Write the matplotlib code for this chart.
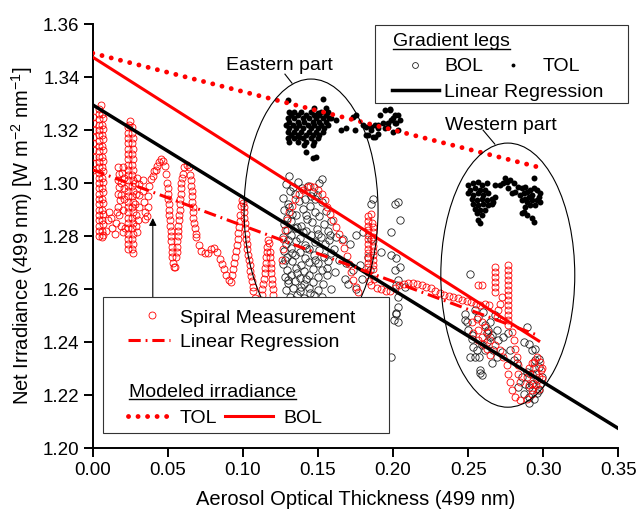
import matplotlib
matplotlib.use("Agg")
import matplotlib.pyplot as plt
from matplotlib.patches import Ellipse, Rectangle

plt.rcParams['font.family'] = ['Liberation Sans', 'DejaVu Sans']
plt.rcParams['mathtext.fontset'] = 'custom'
plt.rcParams['mathtext.rm'] = 'Liberation Sans'
plt.rcParams['mathtext.default'] = 'regular'

# ---- data ------------------------------------------------------------------
x_ticks = [0.00, 0.05, 0.10, 0.15, 0.20, 0.25, 0.30, 0.35]
y_ticks = [1.20, 1.22, 1.24, 1.26, 1.28, 1.30, 1.32, 1.34, 1.36]

# modeled irradiance and regression lines (end points)
tol_model_x = [0.0, 0.297]
tol_model_y = [1.349, 1.306]
bol_model_x = [0.0, 0.297]
bol_model_y = [1.3475, 1.2405]
spiral_fit_x = [0.0, 0.297]
spiral_fit_y = [1.305, 1.2425]
legs_fit_x = [0.0, 0.35]
legs_fit_y = [1.3295, 1.2075]

# spiral measurement (red open circles)
spiral_left = [
    (0.0, 1.325), (0.0, 1.3225), (0.0, 1.320), (0.0, 1.3175), (0.0, 1.315), (0.0, 1.3125),
    (0.0, 1.310), (0.0, 1.3075), (0.0, 1.305),
    (0.004, 1.280), (0.004, 1.284), (0.004, 1.288), (0.004, 1.292), (0.004, 1.296), (0.004, 1.300),
    (0.004, 1.304), (0.004, 1.308), (0.004, 1.312), (0.004, 1.316), (0.004, 1.320), (0.004, 1.324),
    (0.0045, 1.328), (0.0055, 1.3295),
    (0.0042, 1.282), (0.0042, 1.286), (0.0042, 1.290), (0.0042, 1.294), (0.0042, 1.298), (0.0042, 1.302),
    (0.0042, 1.306), (0.0042, 1.310), (0.0042, 1.314), (0.0042, 1.318), (0.0042, 1.322), (0.0042, 1.326),
    (0.0065, 1.326), (0.0065, 1.322), (0.0065, 1.318), (0.0065, 1.314), (0.0065, 1.310), (0.0065, 1.306),
    (0.0065, 1.302), (0.0065, 1.298), (0.0065, 1.294), (0.0065, 1.290), (0.0065, 1.286), (0.0065, 1.282),
    (0.0065, 1.2795),
    (0.0068, 1.3245), (0.0068, 1.3205), (0.0068, 1.3165), (0.0068, 1.3125), (0.0068, 1.3085), (0.0068, 1.3045),
    (0.0068, 1.3005), (0.0068, 1.2965), (0.0068, 1.2925), (0.0068, 1.2885), (0.0068, 1.2845), (0.0068, 1.2805),
    (0.009, 1.282), (0.010, 1.286), (0.011, 1.289), (0.0125, 1.287), (0.013, 1.283), (0.0145, 1.281),
    (0.0155, 1.285), (0.016, 1.289), (0.0175, 1.288), (0.019, 1.284), (0.020, 1.2815), (0.0215, 1.283),
    (0.0165, 1.306), (0.0175, 1.3035), (0.0165, 1.301), (0.0175, 1.2985), (0.0165, 1.296), (0.018, 1.2935),
    (0.017, 1.291), (0.0185, 1.2955), (0.019, 1.300), (0.0195, 1.304), (0.020, 1.306), (0.021, 1.302),
    (0.0205, 1.298), (0.021, 1.294), (0.020, 1.290),
    (0.0235, 1.275), (0.0235, 1.279), (0.0235, 1.283), (0.0235, 1.287), (0.0235, 1.291), (0.0235, 1.295),
    (0.0235, 1.299), (0.0235, 1.303), (0.0235, 1.307), (0.0235, 1.311), (0.0235, 1.315), (0.0235, 1.319),
    (0.024, 1.322), (0.025, 1.3235),
    (0.0238, 1.277), (0.0238, 1.281), (0.0238, 1.285), (0.0238, 1.289), (0.0238, 1.293), (0.0238, 1.297),
    (0.0238, 1.301), (0.0238, 1.305), (0.0238, 1.309), (0.0238, 1.313), (0.0238, 1.317), (0.0238, 1.321),
    (0.026, 1.321), (0.0265, 1.317), (0.0265, 1.313), (0.0265, 1.309), (0.0265, 1.305), (0.0265, 1.301),
    (0.0265, 1.297), (0.0265, 1.293), (0.0265, 1.289), (0.0265, 1.285), (0.0265, 1.281), (0.0265, 1.277),
    (0.0265, 1.2735),
    (0.0262, 1.319), (0.0262, 1.315), (0.0262, 1.311), (0.0262, 1.307), (0.0262, 1.303), (0.0262, 1.299),
    (0.0262, 1.295), (0.0262, 1.291), (0.0262, 1.287), (0.0262, 1.283), (0.0262, 1.279), (0.0262, 1.275),
    (0.028, 1.300), (0.0285, 1.296), (0.028, 1.292), (0.029, 1.288), (0.0285, 1.284), (0.0295, 1.2815),
    (0.030, 1.286), (0.0305, 1.291), (0.031, 1.2955), (0.0305, 1.2995), (0.0295, 1.302),
    (0.0335, 1.301), (0.0335, 1.297), (0.034, 1.293), (0.0345, 1.289), (0.035, 1.2865), (0.036, 1.2875),
    (0.0365, 1.291), (0.037, 1.295), (0.0375, 1.299), (0.0385, 1.3015),
    (0.040, 1.3025), (0.041, 1.3045), (0.042, 1.305),
]
spiral_mid = [
    (0.043, 1.3065), (0.044, 1.308), (0.0455, 1.309), (0.047, 1.3085), (0.048, 1.3065), (0.049, 1.3035),
    (0.0495, 1.300), (0.050, 1.296), (0.0505, 1.292), (0.051, 1.288), (0.0515, 1.284), (0.052, 1.280),
    (0.0525, 1.276), (0.053, 1.272), (0.054, 1.2685), (0.055, 1.2685), (0.0555, 1.272), (0.056, 1.276),
    (0.0565, 1.280), (0.057, 1.284), (0.0575, 1.288), (0.058, 1.292), (0.0585, 1.296), (0.059, 1.300),
    (0.060, 1.3035), (0.061, 1.306), (0.0625, 1.3068), (0.064, 1.306), (0.065, 1.303), (0.0655, 1.299),
    (0.066, 1.295), (0.0665, 1.291), (0.067, 1.287), (0.068, 1.283), (0.069, 1.2795), (0.0705, 1.2765),
    (0.0498, 1.298), (0.0502, 1.294), (0.0508, 1.290), (0.0512, 1.286), (0.0518, 1.282), (0.0522, 1.278),
    (0.0528, 1.274), (0.0535, 1.270), (0.0558, 1.274), (0.0562, 1.278), (0.0568, 1.282), (0.0572, 1.286),
    (0.0578, 1.290), (0.0582, 1.294), (0.0588, 1.298), (0.0595, 1.302), (0.0652, 1.301), (0.0658, 1.297),
    (0.0662, 1.293), (0.0668, 1.289), (0.0675, 1.285), (0.0685, 1.281),
    (0.072, 1.2745), (0.0745, 1.2735), (0.077, 1.2735), (0.079, 1.275), (0.081, 1.2755), (0.083, 1.274),
    (0.0845, 1.2715), (0.086, 1.2695), (0.0875, 1.2675), (0.089, 1.2655), (0.0905, 1.2635), (0.092, 1.2628),
    (0.093, 1.2655), (0.094, 1.270), (0.0955, 1.2745), (0.0965, 1.279), (0.0975, 1.2835), (0.098, 1.288),
    (0.0985, 1.2915), (0.0995, 1.2935), (0.1005, 1.291), (0.101, 1.287), (0.1015, 1.283), (0.102, 1.279),
    (0.103, 1.275), (0.104, 1.271), (0.105, 1.267), (0.106, 1.263), (0.107, 1.2595), (0.108, 1.2565),
    (0.0935, 1.2678), (0.095, 1.2722), (0.096, 1.2768), (0.097, 1.2812), (0.0978, 1.2858), (0.1002, 1.2925),
    (0.1008, 1.289), (0.1012, 1.285), (0.1018, 1.281), (0.1025, 1.277), (0.1035, 1.273), (0.1045, 1.269),
    (0.1055, 1.265), (0.1065, 1.261),
    (0.112, 1.256), (0.113, 1.260), (0.114, 1.264), (0.115, 1.268), (0.1155, 1.272), (0.116, 1.276),
    (0.1165, 1.2785), (0.1175, 1.2775), (0.118, 1.274), (0.1185, 1.270), (0.119, 1.266), (0.1195, 1.262),
    (0.120, 1.258), (0.1205, 1.255),
    (0.1125, 1.258), (0.1135, 1.262), (0.1145, 1.266), (0.1152, 1.270), (0.1158, 1.274), (0.1182, 1.272),
    (0.1188, 1.268), (0.1192, 1.264), (0.1198, 1.260),
]
spiral_east = [
    (0.126, 1.271), (0.127, 1.275), (0.127, 1.279), (0.128, 1.2825), (0.1295, 1.286), (0.131, 1.289),
    (0.133, 1.2915), (0.135, 1.294), (0.1375, 1.296), (0.140, 1.2975), (0.1425, 1.2985), (0.145, 1.299),
    (0.1475, 1.2985), (0.150, 1.2975), (0.1525, 1.296), (0.1545, 1.2935), (0.156, 1.291), (0.158, 1.2885),
    (0.160, 1.286), (0.162, 1.2835), (0.164, 1.281), (0.166, 1.2785), (0.1675, 1.2755), (0.169, 1.2725),
    (0.1705, 1.2695), (0.172, 1.2665), (0.1735, 1.2635), (0.175, 1.261), (0.1765, 1.259),
    (0.1835, 1.2875), (0.1835, 1.284), (0.1835, 1.2805), (0.1835, 1.277), (0.1835, 1.2735), (0.1835, 1.270),
    (0.1835, 1.2665), (0.184, 1.263), (0.1855, 1.2615), (0.187, 1.264), (0.1865, 1.2675), (0.1865, 1.271),
    (0.1865, 1.2745), (0.1865, 1.278), (0.1865, 1.2815), (0.186, 1.285), (0.185, 1.2885),
    (0.1835, 1.2858), (0.1835, 1.2823), (0.1835, 1.2788), (0.1835, 1.2753), (0.1835, 1.2718), (0.1835, 1.2683),
    (0.1865, 1.2693), (0.1865, 1.2728), (0.1865, 1.2763), (0.1865, 1.2798), (0.1865, 1.2833),
    (0.189, 1.2605), (0.192, 1.260), (0.195, 1.2595), (0.198, 1.2595), (0.201, 1.2605), (0.204, 1.2615),
    (0.207, 1.262), (0.210, 1.2625), (0.213, 1.2625), (0.216, 1.262), (0.219, 1.2615), (0.222, 1.261),
    (0.225, 1.2605), (0.228, 1.2595), (0.231, 1.2585), (0.234, 1.258), (0.237, 1.2575), (0.240, 1.257),
    (0.243, 1.2565), (0.246, 1.256), (0.249, 1.2555), (0.252, 1.255), (0.255, 1.2545), (0.258, 1.254),
    (0.261, 1.2545), (0.264, 1.254),
]
spiral_west = [
    (0.2568, 1.2615), (0.2590, 1.2615),
    (0.2679, 1.2684), (0.2679, 1.2665), (0.2679, 1.2646), (0.2679, 1.2627), (0.2679, 1.2609), (0.2679, 1.259),
    (0.2764, 1.2691), (0.2764, 1.2672), (0.2764, 1.2653), (0.2764, 1.2634), (0.2764, 1.2615), (0.2764, 1.2596),
    (0.2764, 1.2577), (0.2764, 1.2558), (0.2764, 1.2539), (0.2764, 1.252), (0.2764, 1.2502), (0.2764, 1.2483),
    (0.2764, 1.2464),
    (0.2724, 1.2571), (0.2713, 1.2546), (0.2702, 1.2521), (0.2690, 1.2496),
    (0.2523, 1.2477), (0.2557, 1.2489), (0.259, 1.2477), (0.2613, 1.2458), (0.2635, 1.2439), (0.2568, 1.2445),
    (0.2535, 1.2433), (0.259, 1.242), (0.2646, 1.2408), (0.2679, 1.2389), (0.2713, 1.237), (0.2735, 1.2345),
    (0.2757, 1.2313), (0.2768, 1.2282), (0.278, 1.225), (0.2791, 1.2219), (0.2813, 1.2194), (0.2846, 1.2181),
    (0.2891, 1.2187), (0.2924, 1.2206), (0.2951, 1.2238), (0.2969, 1.2269), (0.2991, 1.2301), (0.298, 1.2326),
    (0.2936, 1.2326), (0.2902, 1.2301), (0.2891, 1.2269), (0.2902, 1.2238), (0.2924, 1.2219),
    (0.2791, 1.2439), (0.2802, 1.2408), (0.2813, 1.2376), (0.2824, 1.2345), (0.2831, 1.2313), (0.2835, 1.2282),
    (0.2846, 1.225),
    (0.2958, 1.2345), (0.2985, 1.2295), (0.2995, 1.226), (0.297, 1.2225), (0.2935, 1.2245), (0.2915, 1.228),
    (0.2925, 1.232), (0.2955, 1.2285),
    (0.2568, 1.2408), (0.2601, 1.2395), (0.2624, 1.2376), (0.2646, 1.2352),
]

# gradient legs: bottom of layer (open black circles)
bol_east = [
    (0.131, 1.3025), (0.153, 1.3015), (0.1285, 1.2995), (0.1365, 1.3005), (0.1435, 1.2990), (0.1505, 1.3002),
    (0.1315, 1.2970), (0.1395, 1.2982), (0.1470, 1.2968), (0.1270, 1.2945), (0.1345, 1.2958), (0.1415, 1.2940),
    (0.1495, 1.2955), (0.1300, 1.2920), (0.1372, 1.2932), (0.1450, 1.2915), (0.1528, 1.2928),
    (0.1275, 1.2898), (0.1328, 1.2885), (0.1402, 1.2903), (0.1478, 1.2890), (0.1552, 1.2896),
    (0.1292, 1.2868), (0.1355, 1.2880), (0.1428, 1.2865), (0.1508, 1.2877),
    (0.1272, 1.2845), (0.1318, 1.2856), (0.1388, 1.2840), (0.1462, 1.2853), (0.1538, 1.2846), (0.1590, 1.2858),
    (0.1295, 1.2822), (0.1348, 1.2830), (0.1418, 1.2818), (0.1492, 1.2828), (0.1565, 1.2820),
    (0.1268, 1.2797), (0.1322, 1.2805), (0.1383, 1.2792), (0.1453, 1.2803), (0.1520, 1.2795), (0.1580, 1.2806),
    (0.1290, 1.2770), (0.1352, 1.2780), (0.1412, 1.2768), (0.1483, 1.2778), (0.1548, 1.2770),
    (0.1272, 1.2745), (0.1318, 1.2755), (0.1378, 1.2742), (0.1443, 1.2753), (0.1508, 1.2746), (0.1605, 1.2752),
    (0.1293, 1.2720), (0.1347, 1.2730), (0.1413, 1.2718), (0.1472, 1.2728), (0.1538, 1.2721),
    (0.1270, 1.2696), (0.1325, 1.2705), (0.1385, 1.2692), (0.1440, 1.2703), (0.1500, 1.2697), (0.1568, 1.2705),
    (0.1292, 1.2672), (0.1352, 1.2680), (0.1408, 1.2668), (0.1470, 1.2678), (0.1530, 1.2671),
    (0.1280, 1.2647), (0.1320, 1.2655), (0.1378, 1.2643), (0.1440, 1.2653), (0.1498, 1.2645), (0.1560, 1.2652),
    (0.1302, 1.2622), (0.1350, 1.2630), (0.1410, 1.2618), (0.1468, 1.2628), (0.1532, 1.2620),
    (0.1290, 1.2597), (0.1333, 1.2605), (0.1383, 1.2593), (0.1438, 1.2603), (0.1502, 1.2596), (0.1588, 1.2602),
    (0.1312, 1.2572), (0.1362, 1.2580), (0.1408, 1.2568), (0.1472, 1.2578), (0.1528, 1.2570),
    (0.1330, 1.2548), (0.1392, 1.2555), (0.1452, 1.2545), (0.1510, 1.2553),
    (0.1350, 1.2522), (0.1418, 1.2528), (0.1482, 1.2520),
    (0.1335, 1.2985), (0.1455, 1.2950), (0.1310, 1.2910), (0.1420, 1.2880), (0.1360, 1.2835), (0.1500, 1.2810),
    (0.1300, 1.2785), (0.1420, 1.2755), (0.1330, 1.2735), (0.1480, 1.2710), (0.1360, 1.2660), (0.1420, 1.2640),
    (0.1300, 1.2635), (0.1390, 1.2610), (0.1450, 1.2585), (0.1340, 1.2560), (0.1280, 1.2710), (0.1560, 1.2680),
    (0.1400, 1.2815), (0.1480, 1.2940),
]
bol_east_scatter = [
    (0.1855, 1.2923), (0.1866, 1.2942), (0.201, 1.2923), (0.2033, 1.2929), (0.2044, 1.286), (0.1989, 1.2816),
    (0.1855, 1.2791), (0.1799, 1.2816), (0.1755, 1.2804), (0.171, 1.2772), (0.1666, 1.2791), (0.1621, 1.2798),
    (0.1588, 1.2735), (0.1643, 1.271), (0.1688, 1.2697), (0.1733, 1.2672), (0.1677, 1.264), (0.1777, 1.2691),
    (0.1833, 1.2722), (0.1844, 1.2672), (0.1922, 1.2741), (0.1989, 1.2728), (0.2022, 1.2716), (0.2044, 1.2684),
    (0.201, 1.2672), (0.2033, 1.2634), (0.2022, 1.2615), (0.2078, 1.2609), (0.2033, 1.2571), (0.2033, 1.2533),
    (0.2022, 1.2508), (0.2033, 1.2477), (0.1989, 1.2343), (0.2022, 1.2509), (0.2009, 1.2483),
    (0.1576, 1.2785), (0.1610, 1.2665), (0.1700, 1.2620), (0.1750, 1.2600), (0.1790, 1.2640),
]
bol_west = [
    (0.2512, 1.2659), (0.2479, 1.2508), (0.249, 1.2477), (0.2501, 1.2445), (0.2523, 1.2414), (0.2535, 1.2382),
    (0.2512, 1.2345), (0.2546, 1.2345), (0.2557, 1.237), (0.259, 1.2389), (0.2624, 1.2401), (0.2613, 1.237),
    (0.2657, 1.232), (0.2579, 1.2294), (0.259, 1.2275), (0.2646, 1.242), (0.2668, 1.237), (0.2702, 1.2408),
    (0.2735, 1.242), (0.2768, 1.2433), (0.278, 1.237), (0.269, 1.2345), (0.2724, 1.2364), (0.2802, 1.2332),
    (0.2824, 1.232), (0.2869, 1.2401), (0.2902, 1.2395), (0.2924, 1.237), (0.2947, 1.2376), (0.2947, 1.2332),
    (0.2969, 1.2338), (0.2936, 1.2301), (0.2969, 1.2307), (0.2991, 1.2269), (0.2958, 1.2257), (0.2924, 1.2244),
    (0.2902, 1.2231), (0.288, 1.2244), (0.2858, 1.2269), (0.2835, 1.2231), (0.2869, 1.2206), (0.2902, 1.2194),
    (0.2936, 1.2187), (0.2969, 1.2219), (0.298, 1.2244), (0.2924, 1.2282), (0.2891, 1.2288), (0.2613, 1.2464),
    (0.2646, 1.2477), (0.2679, 1.2502), (0.2568, 1.2496), (0.2546, 1.2521), (0.2523, 1.2426), (0.2477, 1.2483),
    (0.257, 1.2343), (0.2577, 1.2283), (0.289, 1.2457), (0.2958, 1.2208), (0.2904, 1.217),
    (0.2601, 1.2515), (0.2635, 1.2445), (0.2657, 1.2426), (0.2624, 1.2433), (0.269, 1.2445),
]

# gradient legs: top of layer (filled black dots)
tol_east = [
    (0.1298, 1.3313), (0.1476, 1.3282), (0.1532, 1.3319), (0.1498, 1.3263), (0.1554, 1.3282),
    (0.1309, 1.3269), (0.1342, 1.3269), (0.1387, 1.3269), (0.1454, 1.3269), (0.1521, 1.3269), (0.1565, 1.3269),
    (0.1320, 1.3257), (0.1365, 1.3257), (0.1421, 1.3257), (0.1476, 1.3257), (0.1510, 1.3257), (0.1554, 1.3257),
    (0.1298, 1.3244), (0.1342, 1.3244), (0.1398, 1.3244), (0.1443, 1.3244), (0.1487, 1.3244), (0.1532, 1.3244),
    (0.1576, 1.3244),
    (0.1309, 1.3231), (0.1365, 1.3231), (0.1409, 1.3231), (0.1465, 1.3231), (0.1510, 1.3231), (0.1554, 1.3231),
    (0.1287, 1.3219), (0.1331, 1.3219), (0.1376, 1.3219), (0.1432, 1.3219), (0.1476, 1.3219), (0.1521, 1.3219),
    (0.1565, 1.3219),
    (0.1309, 1.3206), (0.1354, 1.3206), (0.1398, 1.3206), (0.1454, 1.3206), (0.1498, 1.3206), (0.1543, 1.3206),
    (0.1298, 1.3194), (0.1342, 1.3194), (0.1387, 1.3194), (0.1443, 1.3194), (0.1487, 1.3194), (0.1532, 1.3194),
    (0.1320, 1.3181), (0.1365, 1.3181), (0.1421, 1.3181), (0.1465, 1.3181), (0.1510, 1.3181),
    (0.1298, 1.3169), (0.1342, 1.3169), (0.1398, 1.3169), (0.1454, 1.3169), (0.1498, 1.3169),
    (0.1309, 1.3156), (0.1365, 1.3156), (0.1421, 1.3156), (0.1476, 1.3156),
    (0.1409, 1.3143), (0.1465, 1.3143), (0.1376, 1.3175),
    (0.1421, 1.3118), (0.1465, 1.3093), (0.1487, 1.3100),
    (0.1654, 1.3200), (0.1688, 1.3206), (0.1755, 1.3257), (0.1732, 1.3250), (0.1799, 1.3219), (0.1821, 1.3213),
    (0.1855, 1.3213), (0.1900, 1.3219), (0.1833, 1.3181), (0.1877, 1.3175), (0.1944, 1.3206), (0.1966, 1.3225),
    (0.1989, 1.3238), (0.2011, 1.3257), (0.2022, 1.3225), (0.2033, 1.3200), (0.1977, 1.3275), (0.2000, 1.3244),
    (0.1944, 1.3275), (0.1978, 1.3278), (0.1910, 1.3257), (0.2033, 1.3257), (0.2044, 1.3238), (0.2011, 1.3225),
    (0.1966, 1.3213), (0.1933, 1.3225), (0.1899, 1.3206), (0.1877, 1.3219), (0.1855, 1.3200), (0.1822, 1.3181),
    (0.1866, 1.3175), (0.1899, 1.3187), (0.2000, 1.3194), (0.1744, 1.3200), (0.1588, 1.3244), (0.1621, 1.3238),
]
tol_west = [
    (0.2501, 1.2992), (0.2535, 1.2999), (0.2568, 1.3005), (0.2590, 1.2992), (0.2624, 1.2999),
    (0.2512, 1.2974), (0.2546, 1.2980), (0.2579, 1.2974), (0.2613, 1.2974),
    (0.2501, 1.2961), (0.2535, 1.2955), (0.2568, 1.2961), (0.2601, 1.2955), (0.2635, 1.2961),
    (0.2523, 1.2942), (0.2557, 1.2936), (0.2590, 1.2942), (0.2624, 1.2936), (0.2657, 1.2942),
    (0.2535, 1.2923), (0.2568, 1.2917), (0.2601, 1.2923), (0.2635, 1.2917), (0.2668, 1.2930),
    (0.2546, 1.2904), (0.2579, 1.2898), (0.2613, 1.2898), (0.2557, 1.2886), (0.2590, 1.2879),
    (0.2568, 1.2861), (0.2579, 1.2848), (0.2679, 1.2948), (0.2657, 1.2923),
    (0.2679, 1.2992), (0.2713, 1.2992), (0.2735, 1.2999), (0.2757, 1.3005), (0.2780, 1.3011), (0.2802, 1.2999),
    (0.2768, 1.2980), (0.2746, 1.3018), (0.2813, 1.2967), (0.2791, 1.2961), (0.2835, 1.2986), (0.2858, 1.2980),
    (0.2880, 1.2986),
    (0.2869, 1.2961), (0.2891, 1.2967), (0.2913, 1.2974), (0.2936, 1.2980), (0.2958, 1.2974), (0.2980, 1.2961),
    (0.2969, 1.2948), (0.2924, 1.2955), (0.2902, 1.2948), (0.2880, 1.2942), (0.2858, 1.2936), (0.2846, 1.2955),
    (0.2891, 1.2930), (0.2924, 1.2936), (0.2958, 1.2936), (0.2980, 1.2930), (0.2913, 1.2917), (0.2947, 1.2917),
    (0.2880, 1.2911), (0.2869, 1.2892), (0.2891, 1.2879), (0.2924, 1.2867), (0.2936, 1.2854), (0.2858, 1.2886),
    (0.2936, 1.3018),
]


def split(points):
    return [p[0] for p in points], [p[1] for p in points]


# ---- figure -----------------------------------------------------------------
fig = plt.figure(figsize=(6.36, 5.12), dpi=100)
ax = fig.add_axes([0.1458, 0.1244, 0.8264, 0.8287])

bol_pts = bol_east + bol_east_scatter + bol_west
tol_pts = tol_east + tol_west
spiral_pts = spiral_left + spiral_mid + spiral_east + spiral_west

bx, by = split(bol_pts)
ax.plot(bx, by, 'o', mfc='none', mec='#222222', ms=5.3, mew=0.6, zorder=2)
tx, ty = split(tol_pts)
ax.plot(tx, ty, 'o', color='black', ms=4.3, mew=0, zorder=3)
sx, sy = split(spiral_pts)
ax.plot(sx, sy, 'o', mfc='none', mec='red', ms=5.0, mew=0.6, zorder=4)

ax.plot(legs_fit_x, legs_fit_y, color='black', lw=2.5, zorder=5)
ax.plot(bol_model_x, bol_model_y, color='red', lw=2.2, zorder=5)
ax.plot(spiral_fit_x, spiral_fit_y, color='red', lw=2.2, zorder=5,
        linestyle=(0, (4, 1.6, 0.6, 1.6)))
ax.plot(tol_model_x, tol_model_y, color='red', lw=3.5, zorder=6,
        linestyle=(0, (0.01, 1.95)), dash_capstyle='round')

# ellipses around the two regions
ax.add_patch(Ellipse((0.1454, 1.2898), 0.0892, 0.0989, fill=False, ec='black', lw=0.8, zorder=7))
ax.add_patch(Ellipse((0.2764, 1.2653), 0.0892, 0.0996, fill=False, ec='black', lw=0.8, zorder=7))
ax.text(0.1244, 1.3426, 'Eastern part', ha='center', va='baseline', fontsize=14, zorder=7)
ax.plot([0.128, 0.1327], [1.3411, 1.3377], color='black', lw=0.8, zorder=7)
ax.text(0.2718, 1.320, 'Western part', ha='center', va='baseline', fontsize=14, zorder=7)
ax.plot([0.2599, 0.2678], [1.3200, 1.3147], color='black', lw=0.8, zorder=7)

ax.annotate('', xy=(0.04, 1.2879), xytext=(0.04, 1.250),
            arrowprops=dict(arrowstyle='-|>', color='black', lw=0.8, mutation_scale=11),
            zorder=7)

ax.set_xlim(0, 0.35)
ax.set_ylim(1.20, 1.36)
ax.set_xticks(x_ticks)
ax.set_yticks(y_ticks)
ax.set_xticklabels([f'{v:.2f}' for v in x_ticks])
ax.set_yticklabels([f'{v:.2f}' for v in y_ticks])
ax.tick_params(direction='out', length=6.5, width=1.4, labelsize=13.5, pad=3)
for side in ('top', 'right'):
    ax.spines[side].set_visible(False)
for side in ('left', 'bottom'):
    ax.spines[side].set_linewidth(1.4)

ax.set_xlabel('Aerosol Optical Thickness (499 nm)', fontsize=14.5, labelpad=8.5)
ax.set_ylabel('Net Irradiance (499 nm) [W m$^{-2}$ nm$^{-1}$]', fontsize=14.5, labelpad=6)

# ---- hand drawn legend boxes -----------------------------------------------
T = ax.transAxes
box_kw = dict(transform=T, fc='white', ec='#333333', lw=0.8, zorder=10, clip_on=False)
txt_kw = dict(transform=T, fontsize=14, va='baseline', ha='left', zorder=11, clip_on=False)
mk_kw = dict(transform=T, zorder=11, clip_on=False)

ax.add_patch(Rectangle((0.537, 0.8138), 0.4815, 0.184, **box_kw))
t1 = ax.text(0.5713, 0.9481, 'Gradient legs', **txt_kw)
ax.plot([0.6132], [0.9033], 'o', mfc='none', mec='#222222', ms=4.2, mew=0.6, **mk_kw)
ax.text(0.6684, 0.8881, 'BOL', **txt_kw)
ax.plot([0.7997], [0.9033], 'o', color='black', ms=2.8, mew=0, **mk_kw)
ax.text(0.8568, 0.8881, 'TOL', **txt_kw)
ax.plot([0.5694, 0.6589], [0.8445, 0.8445], color='black', lw=2.5, **mk_kw)
ax.text(0.6684, 0.8291, 'Linear Regression', **txt_kw)

ax.add_patch(Rectangle((0.0196, 0.036), 0.5441, 0.3206, **box_kw))
ax.plot([0.1128], [0.3142], 'o', mfc='none', mec='red', ms=5.0, mew=0.6, **mk_kw)
ax.text(0.1661, 0.2965, 'Spiral Measurement', **txt_kw)
ax.plot([0.0672, 0.1471], [0.2553, 0.2553], color='red', lw=2.2,
        linestyle=(0, (4, 1.6, 0.6, 1.6)), **mk_kw)
ax.text(0.1661, 0.2387, 'Linear Regression', **txt_kw)
t2 = ax.text(0.0691, 0.1221, 'Modeled irradiance', **txt_kw)
ax.plot([0.0672, 0.1433], [0.0761, 0.0761], color='red', lw=3.5,
        linestyle=(0, (0.01, 1.95)), dash_capstyle='round', **mk_kw)
ax.text(0.1661, 0.0596, 'TOL', **txt_kw)
ax.plot([0.2517, 0.3430], [0.0761, 0.0761], color='red', lw=2.2, **mk_kw)
ax.text(0.3620, 0.0596, 'BOL', **txt_kw)

# underline the two legend titles
fig.canvas.draw()
renderer = fig.canvas.get_renderer()
inv = T.inverted()
for t, uy in ((t1, 0.9411), (t2, 0.1162)):
    bb = t.get_window_extent(renderer)
    (x0, _), (x1, _) = inv.transform([(bb.x0, bb.y0), (bb.x1, bb.y0)])
    ax.plot([x0, x1], [uy, uy], color='black', lw=1.0, **mk_kw)

fig.savefig('out.png', dpi=100)
